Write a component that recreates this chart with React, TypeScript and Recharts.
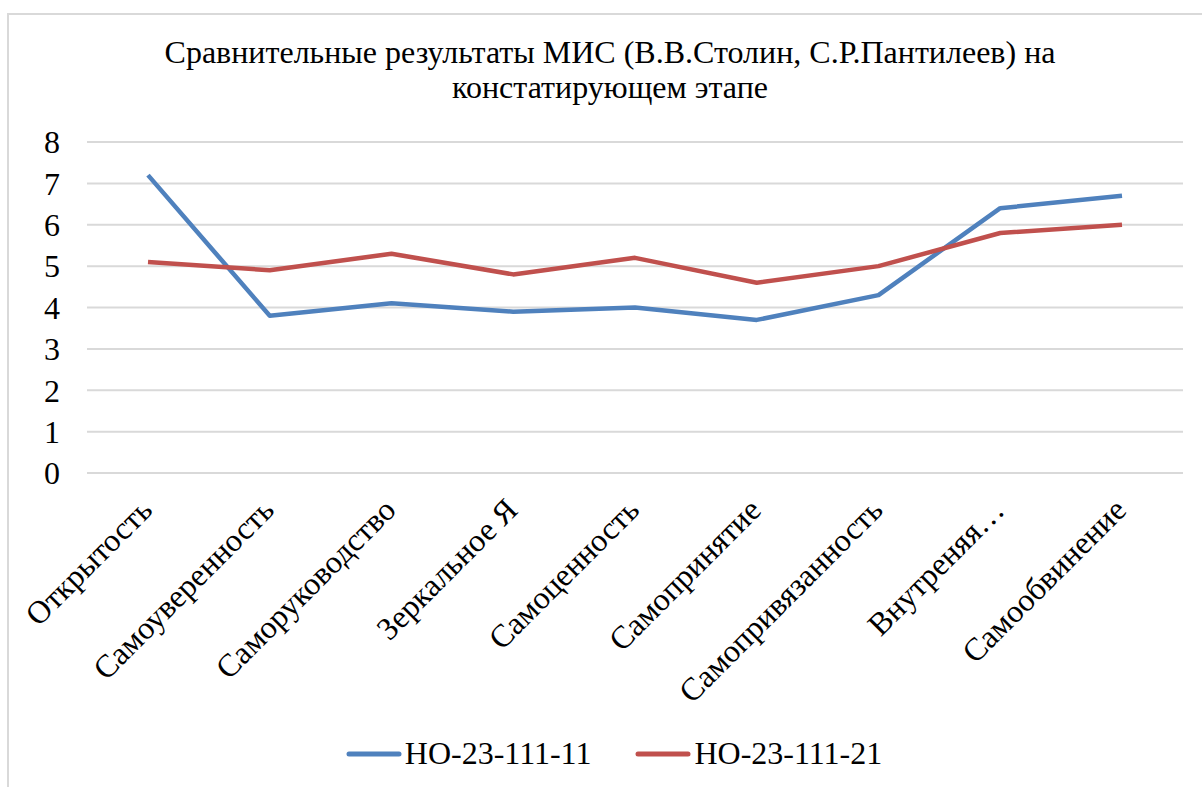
import React from 'react';
import { LineChart, Line, XAxis, YAxis, CartesianGrid, Legend } from 'recharts';

const categories = [
    'Открытость',
    'Самоуверенность',
    'Саморуководство',
    'Зеркальное Я',
    'Самоценность',
    'Самопринятие',
    'Самопривязанность',
    'Внутреняя…',
    'Самообвинение',
];
const group11 = [7.2, 3.8, 4.1, 3.9, 4.0, 3.7, 4.3, 6.4, 6.7];
const group21 = [5.1, 4.9, 5.3, 4.8, 5.2, 4.6, 5.0, 5.8, 6.0];
const yTicks = [0, 1, 2, 3, 4, 5, 6, 7, 8];

const SERIES = [
    { key: 'g11', name: 'НО-23-111-11', color: '#4f81bd' },
    { key: 'g21', name: 'НО-23-111-21', color: '#c0504d' },
];

const FONT = "'Times New Roman', 'Liberation Serif', Tinos, serif";

const CategoryTick = (props: any) => {
    const { x, y, payload } = props;
    return (
        <g transform={`translate(${x + 6},${y + 37})`}>
            <text x={0} y={0} textAnchor="end" transform="rotate(-45)" style={{ fontFamily: FONT, fontSize: 32 }} fill="#000">
                {payload.value}
            </text>
        </g>
    );
};

const LegendContent = (props: any) => {
    const items = props.payload || [];
    return (
        <div style={{ display: 'flex', justifyContent: 'center', alignItems: 'center', fontFamily: FONT, fontSize: 32, color: '#000' }}>
            {items.map((it: any, i: number) => (
                <div key={i} style={{ display: 'flex', alignItems: 'center', marginRight: i === 0 ? 44 : 0 }}>
                    <svg width={56} height={10}>
                        <line x1={3} y1={5} x2={53} y2={5} stroke={it.color} strokeWidth={5} strokeLinecap="round" />
                    </svg>
                    <span style={{ marginLeft: 3 }}>{it.value}</span>
                </div>
            ))}
        </div>
    );
};

export default function App() {
    const data = categories.map((name, i) => ({ name, g11: group11[i], g21: group21[i] }));

    return (
        <div style={{ position: 'absolute', left: 0, top: 0, width: 1202, height: 787, overflow: 'hidden', background: '#fff', fontFamily: FONT }}>
            <div style={{ position: 'absolute', left: 7, top: 13, width: 1230, height: 800, border: '2px solid #d9d9d9' }} />
            <div style={{ position: 'absolute', left: 0, top: 35, width: 1220, textAlign: 'center', fontFamily: FONT, fontSize: 32, lineHeight: '35px', color: '#000' }}>
                Сравнительные результаты МИС (В.В.Столин, С.Р.Пантилеев) на
                <br />
                констатирующем этапе
            </div>
            <LineChart width={1202} height={787} data={data} margin={{ top: 142, right: 19, bottom: 0, left: 7 }} style={{ position: 'absolute', left: 0, top: 0, fontFamily: FONT }}>
                <CartesianGrid vertical={false} stroke="#d9d9d9" strokeWidth={2} />
                <XAxis
                    dataKey="name"
                    axisLine={false}
                    tickLine={false}
                    tickSize={0}
                    height={314}
                    interval={0}
                    padding={{ left: 61, right: 61 }}
                    tick={<CategoryTick />}
                />
                <YAxis
                    domain={[0, 8]}
                    ticks={yTicks}
                    interval={0}
                    axisLine={false}
                    tickLine={false}
                    tickSize={0}
                    tickMargin={27}
                    width={80}
                    tick={{ fontSize: 32, fontFamily: FONT, fill: '#000' }}
                />
                <Legend verticalAlign="middle" align="center" layout="horizontal" wrapperStyle={{ top: 735, left: 4, width: 1220 }} content={<LegendContent />} />
                {SERIES.map(s => (
                    <Line
                        key={s.key}
                        type="linear"
                        dataKey={s.key}
                        name={s.name}
                        stroke={s.color}
                        strokeWidth={4.5}
                        strokeLinejoin="round"
                        dot={false}
                        activeDot={false}
                        isAnimationActive={false}
                    />
                ))}
            </LineChart>
        </div>
    );
}
